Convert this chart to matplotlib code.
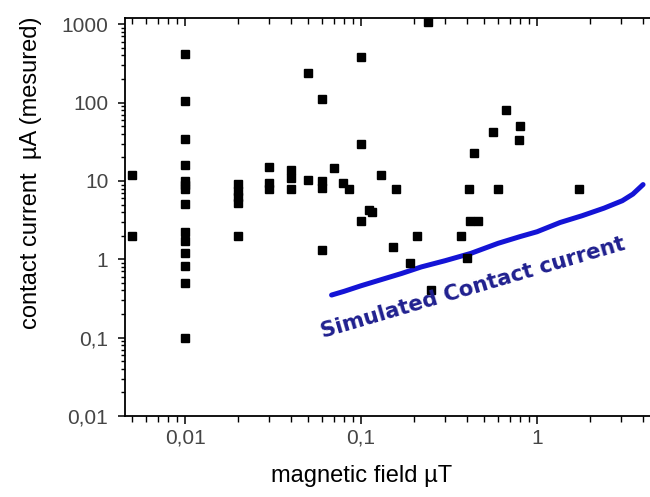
import matplotlib
matplotlib.use("Agg")
import matplotlib.pyplot as plt
from matplotlib.ticker import FixedLocator, FixedFormatter, LogLocator, NullFormatter

# Measured contact currents versus magnetic field
field_uT = [
    0.005, 0.005,
    0.01, 0.01, 0.01, 0.01, 0.01, 0.01, 0.01, 0.01, 0.01, 0.01, 0.01, 0.01, 0.01, 0.01,
    0.02, 0.02, 0.02, 0.02, 0.02,
    0.03, 0.03, 0.03,
    0.04, 0.04, 0.04,
    0.05, 0.05,
    0.06, 0.06, 0.06, 0.06,
    0.07, 0.079, 0.085,
    0.1, 0.1, 0.1,
    0.111, 0.1155, 0.129, 0.151, 0.158, 0.19, 0.207, 0.24, 0.25,
    0.368, 0.40, 0.41, 0.416, 0.438, 0.462,
    0.562, 0.598, 0.67, 0.79, 0.80, 1.73,
]
current_uA = [
    12, 2,
    417, 105, 34, 16, 10, 9, 8, 5.1, 2.2, 1.7, 1.2, 0.82, 0.5, 0.1,
    9.1, 7.4, 6.2, 5.2, 2.0,
    15, 9.4, 7.9,
    14, 11, 8,
    240, 10.3,
    110, 10, 8.2, 1.3,
    14.5, 9.3, 8.0,
    385, 30, 3.05,
    4.25, 4.0, 12, 1.45, 8, 0.9, 2.0, 1070, 0.4,
    2.0, 1.03, 8, 3.05, 22.5, 3.05,
    42.5, 8, 80, 33, 50, 8,
]

# Simulated contact current curve
sim_field_uT = [0.068, 0.08, 0.1, 0.13, 0.17, 0.22, 0.3, 0.42, 0.6, 0.8,
                1.0, 1.35, 1.8, 2.4, 3.05, 3.5, 4.0]
sim_current_uA = [0.35, 0.39, 0.46, 0.55, 0.66, 0.80, 0.96, 1.19, 1.6, 1.95,
                  2.25, 2.95, 3.6, 4.5, 5.6, 6.8, 9.0]

y_ticks = [0.01, 0.1, 1, 10, 100, 1000]
y_tick_labels = ["0,01", "0,1", "1", "10", "100", "1000"]
x_ticks = [0.01, 0.1, 1]
x_tick_labels = ["0,01", "0,1", "1"]

plt.rcParams["font.family"] = ["Liberation Sans", "DejaVu Sans"]

fig = plt.figure(figsize=(6.5, 4.97), dpi=100)
ax = fig.add_axes([125 / 650, 1 - 416 / 497, 1 - 125 / 650, (416 - 18.3) / 497])

ax.set_xscale("log")
ax.set_yscale("log")
ax.set_xlim(0.00456, 4.38)
ax.set_ylim(0.01, 1193)

ax.plot(sim_field_uT, sim_current_uA, color="#1414d6", lw=3.6,
        solid_capstyle="round", zorder=2)
ax.plot(field_uT, current_uA, linestyle="none", marker="s", ms=5.2,
        color="black", mec="black", zorder=3, clip_on=False)

ax.text(0.0605, 0.098, "Simulated Contact current", transform=ax.transData,
        rotation=16.3, rotation_mode="anchor", ha="left", va="baseline",
        fontsize=15.3, fontweight="bold", color="#20208f",
        family=["DejaVu Sans"], zorder=4)

tick_color = "#454545"
ax.yaxis.set_major_locator(FixedLocator(y_ticks))
ax.yaxis.set_major_formatter(FixedFormatter(y_tick_labels))
ax.yaxis.set_minor_locator(LogLocator(base=10, subs=range(2, 10), numticks=20))
ax.yaxis.set_minor_formatter(NullFormatter())
ax.xaxis.set_major_locator(FixedLocator(x_ticks))
ax.xaxis.set_major_formatter(FixedFormatter(x_tick_labels))
ax.xaxis.set_minor_locator(LogLocator(base=10, subs=range(2, 10), numticks=20))
ax.xaxis.set_minor_formatter(NullFormatter())

ax.tick_params(axis="y", which="major", direction="out", length=5, width=1.1,
               labelsize=15, labelcolor=tick_color, pad=7)
ax.tick_params(axis="y", which="minor", direction="out", length=3, width=1.0)
ax.tick_params(axis="x", which="major", direction="out", length=6, width=1.1,
               labelsize=15, labelcolor=tick_color, pad=3)
ax.tick_params(axis="x", which="minor", direction="out", length=4, width=1.0)

ax.spines["right"].set_visible(False)
for side in ("left", "bottom", "top"):
    ax.spines[side].set_linewidth(1.3)

# Mirrored ticks on the top edge pointing inward
top = ax.twiny()
top.set_xscale("log")
top.set_xlim(ax.get_xlim())
top.xaxis.set_major_locator(FixedLocator(x_ticks))
top.xaxis.set_minor_locator(LogLocator(base=10, subs=range(2, 10), numticks=20))
top.xaxis.set_major_formatter(NullFormatter())
top.xaxis.set_minor_formatter(NullFormatter())
top.tick_params(axis="x", which="major", direction="in", length=6, width=1.1)
top.tick_params(axis="x", which="minor", direction="in", length=4, width=1.0)
for s in top.spines.values():
    s.set_visible(False)

fig.text(31 / 650, 1 - 173 / 497, "contact current  \u00b5A (mesured)",
         rotation=90, ha="center", va="center", fontsize=17, color="black")
fig.text(362 / 650, 1 - 476 / 497, "magnetic field \u00b5T",
         ha="center", va="center", fontsize=17, color="black")

fig.savefig("out.png", dpi=100)
